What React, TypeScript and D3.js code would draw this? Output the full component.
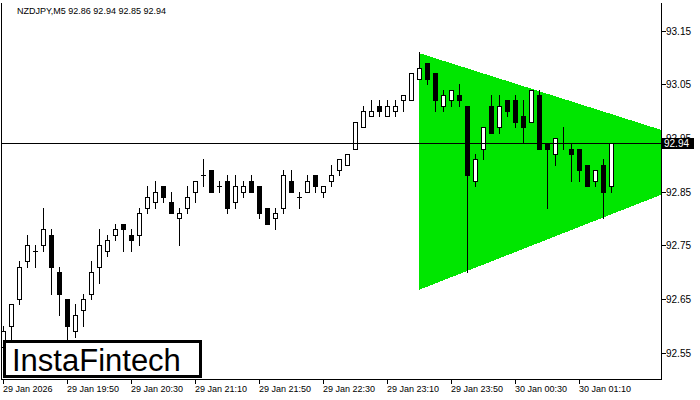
import React from 'react';
import * as d3 from 'd3';

const chartTitle = 'NZDJPY,M5  92.86 92.94 92.85 92.94';

const opens = [
  92.56, 92.60, 92.65, 92.72, 92.74, 92.75, 92.77, 92.70, 92.65, 92.59,
  92.63, 92.66, 92.71, 92.74, 92.77, 92.79, 92.77, 92.77, 92.82, 92.83,
  92.86, 92.83, 92.80, 92.82, 92.85, 92.88, 92.89, 92.86, 92.87, 92.83,
  92.85, 92.87, 92.86, 92.82, 92.80, 92.82, 92.87, 92.84, 92.85, 92.88,
  92.85, 92.87, 92.89, 92.90, 92.93, 92.97, 92.99, 93.01, 92.99, 93.00,
  93.02, 93.02, 93.06, 93.09, 93.07, 93.01, 93.02, 93.03, 93.01, 92.87,
  92.93, 93.01, 92.97, 93.02, 93.02, 92.99, 92.98, 93.03, 92.94, 92.92,
  92.94, 92.93, 92.93, 92.90, 92.87, 92.90, 92.86,
];
const highs = [
  92.60, 92.64, 92.72, 92.77, 92.75, 92.82, 92.78, 92.71, 92.65, 92.64,
  92.66, 92.72, 92.78, 92.77, 92.79, 92.79, 92.78, 92.82, 92.86, 92.87,
  92.86, 92.85, 92.82, 92.86, 92.87, 92.91, 92.89, 92.87, 92.88, 92.88,
  92.87, 92.88, 92.86, 92.82, 92.82, 92.89, 92.89, 92.85, 92.88, 92.88,
  92.86, 92.90, 92.91, 92.92, 92.98, 93.01, 93.02, 93.02, 93.02, 93.02,
  93.03, 93.07, 93.11, 93.09, 93.07, 93.04, 93.04, 93.05, 93.01, 92.92,
  92.97, 93.03, 93.03, 93.02, 93.03, 93.02, 93.04, 93.04, 92.94, 92.95,
  92.97, 92.94, 92.93, 92.90, 92.89, 92.91, 92.94,
];
const lows = [
  92.55, 92.57, 92.64, 92.71, 92.71, 92.74, 92.66, 92.62, 92.56, 92.58,
  92.60, 92.65, 92.68, 92.73, 92.76, 92.74, 92.74, 92.75, 92.81, 92.82,
  92.83, 92.81, 92.75, 92.81, 92.83, 92.86, 92.85, 92.85, 92.81, 92.82,
  92.84, 92.85, 92.80, 92.79, 92.78, 92.81, 92.85, 92.82, 92.85, 92.85,
  92.84, 92.86, 92.88, 92.90, 92.93, 92.97, 92.99, 92.99, 92.99, 92.99,
  93.00, 93.02, 93.06, 93.05, 93.00, 93.00, 93.01, 93.01, 92.70, 92.86,
  92.91, 92.96, 92.96, 92.99, 92.97, 92.94, 92.98, 92.93, 92.82, 92.90,
  92.93, 92.87, 92.87, 92.86, 92.86, 92.80, 92.85,
];
const closes = [
  92.59, 92.64, 92.71, 92.75, 92.74, 92.78, 92.71, 92.66, 92.60, 92.62,
  92.65, 92.70, 92.75, 92.76, 92.78, 92.78, 92.76, 92.81, 92.84, 92.85,
  92.84, 92.81, 92.81, 92.84, 92.87, 92.88, 92.85, 92.86, 92.82, 92.86,
  92.86, 92.85, 92.81, 92.79, 92.81, 92.88, 92.85, 92.84, 92.87, 92.86,
  92.86, 92.88, 92.91, 92.92, 92.98, 93.00, 93.00, 93.00, 93.01, 93.01,
  93.03, 93.07, 93.08, 93.06, 93.02, 93.03, 93.04, 93.02, 92.88, 92.91,
  92.97, 92.96, 93.01, 93.00, 92.98, 92.97, 93.04, 92.93, 92.93, 92.95,
  92.94, 92.92, 92.89, 92.86, 92.89, 92.85, 92.94,
];

const timeLabels = [
  '29 Jan 2026', '29 Jan 19:50', '29 Jan 20:30', '29 Jan 21:10', '29 Jan 21:50',
  '29 Jan 22:30', '29 Jan 23:10', '29 Jan 23:50', '30 Jan 00:30', '30 Jan 01:10',
];
const timeLabelBars = [0, 8, 16, 24, 32, 40, 48, 56, 64, 72];
const priceTicks = [93.15, 93.05, 92.95, 92.85, 92.75, 92.65, 92.55];
const currentPrice = 92.94;

const patternBars = [52, 82.25];
const patternUpper = [93.108, 92.965];
const patternLower = [92.667, 92.844];

const brand = 'InstaFintech';

export default function App() {
  const W = 700;
  const H = 400;
  const plotL = 1;
  const plotR = 661;
  const plotT = 3;
  const plotB = 379;

  const y = d3.scaleLinear().domain([92.55, 93.15]).range([352.7, 30.5]);
  const x = d3.scaleLinear().domain([0, 1]).range([3, 11]);
  const font = "'Liberation Sans', Arial, sans-serif";

  const candles = opens.map((o, i) => {
    const c = closes[i];
    const h = highs[i];
    const l = lows[i];
    const cx = Math.round(x(i));
    const yh = Math.round(y(h));
    const yl = Math.round(y(l));
    const top = Math.round(y(Math.max(o, c)));
    const bot = Math.round(y(Math.min(o, c)));
    const bull = c > o;
    const doji = c === o;
    return (
      <g key={i}>
        <line x1={cx + 0.5} x2={cx + 0.5} y1={yh} y2={yl + 1} stroke="#000" strokeWidth={1} />
        {doji ? (
          <line x1={cx - 2} x2={cx + 3} y1={top + 0.5} y2={top + 0.5} stroke="#000" strokeWidth={1} />
        ) : bull ? (
          <rect x={cx - 1.5} y={top + 0.5} width={4} height={bot - top} fill="#fff" stroke="#000" strokeWidth={1} />
        ) : (
          <rect x={cx - 2} y={top} width={5} height={bot - top + 1} fill="#000" />
        )}
      </g>
    );
  });

  const poly = [
    [x(patternBars[0]), y(patternUpper[0])],
    [x(patternBars[1]), y(patternUpper[1])],
    [x(patternBars[1]), y(patternLower[1])],
    [x(patternBars[0]), y(patternLower[0])],
  ];
  const polyPath = d3.line()(poly as [number, number][]) + 'Z';

  const yCur = Math.round(y(currentPrice)) + 0.5;

  return (
    <svg
      width={W}
      height={H}
      style={{ position: 'absolute', left: 0, top: 0, background: '#fff' }}
      shapeRendering="crispEdges"
    >
      <rect x={0} y={0} width={W} height={H} fill="#fff" />
      <defs>
        <clipPath id="plot">
          <rect x={plotL} y={plotT} width={plotR - plotL} height={plotB - plotT} />
        </clipPath>
      </defs>
      <g clipPath="url(#plot)">
        <path d={polyPath} fill="#00e600" />
        {candles}
        <line x1={plotL} x2={plotR} y1={yCur} y2={yCur} stroke="#000" strokeWidth={1} />
      </g>

      {/* frame */}
      <line x1={plotL + 0.5} x2={plotL + 0.5} y1={plotT} y2={plotB + 1} stroke="#000" />
      <line x1={plotR + 0.5} x2={plotR + 0.5} y1={plotT} y2={plotB + 1} stroke="#000" />
      <line x1={plotL} x2={plotR + 1} y1={plotB + 0.5} y2={plotB + 0.5} stroke="#000" />

      {/* y axis */}
      {priceTicks.map((p) => {
        const yy = Math.round(y(p)) + 0.5;
        return (
          <g key={p}>
            <line x1={plotR + 1} x2={plotR + 5} y1={yy} y2={yy} stroke="#000" />
            <text x={666} y={yy + 3.5} fontFamily={font} fontSize={10} fill="#000" shapeRendering="auto">
              {p.toFixed(2)}
            </text>
          </g>
        );
      })}
      <rect x={plotR + 1} y={yCur - 5.5} width={32} height={11} fill="#000" />
      <text x={664} y={yCur + 3.5} fontFamily={font} fontSize={10} fill="#fff">
        {currentPrice.toFixed(2)}
      </text>

      {/* x axis */}
      {timeLabelBars.map((b, k) => {
        const xx = Math.round(x(b)) + 0.5;
        return (
          <g key={b}>
            <line x1={xx} x2={xx} y1={plotB + 1} y2={plotB + 5} stroke="#000" />
            <text x={xx - 0.5} y={392} fontFamily={font} fontSize={9} fill="#000">
              {timeLabels[k]}
            </text>
          </g>
        );
      })}

      {/* title */}
      <text x={17} y={14} fontFamily={font} fontSize={9} fill="#000">
        {chartTitle}
      </text>

      {/* brand box */}
      <rect x={4} y={341.5} width={196} height={35} fill="#fff" stroke="#000" strokeWidth={3} />
      <text x={12} y={371} fontFamily={font} fontSize={31} fill="#000">
        {brand}
      </text>
    </svg>
  );
}
